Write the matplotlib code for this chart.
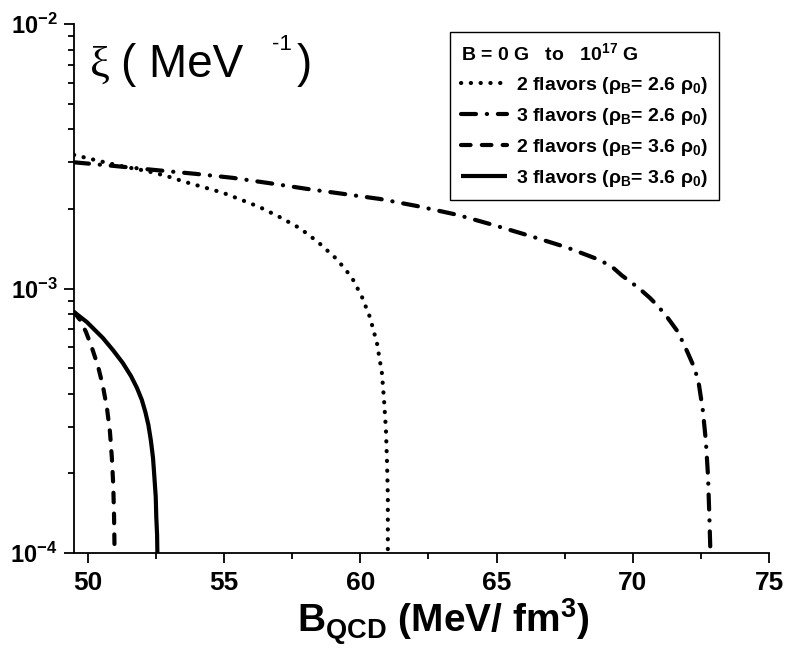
import math
import matplotlib
matplotlib.use('Agg')
import matplotlib.pyplot as plt
from matplotlib.ticker import MultipleLocator, LogLocator, NullFormatter, FuncFormatter, FixedLocator
from matplotlib.lines import Line2D

plt.rcParams['font.family'] = ['Liberation Sans', 'DejaVu Sans']
plt.rcParams['mathtext.fontset'] = 'custom'
plt.rcParams['mathtext.rm'] = 'Liberation Sans'
plt.rcParams['mathtext.bf'] = 'Liberation Sans:bold'
plt.rcParams['mathtext.it'] = 'Liberation Sans:italic'

# ---- data ----
x_2f_26 = [49.49, 50.44, 51.17, 52.17, 52.90, 53.56, 54.22, 54.96, 55.65, 56.31, 57.05,
           57.78, 58.44, 59.14, 59.69, 60.06, 60.35, 60.61, 60.79, 60.87, 60.94, 60.98, 61.01, 61.01]
y_2f_26 = [3.20e-3, 3.03e-3, 2.91e-3, 2.78e-3, 2.66e-3, 2.53e-3, 2.42e-3, 2.30e-3, 2.16e-3, 2.03e-3, 1.86e-3,
           1.69e-3, 1.50e-3, 1.29e-3, 1.10e-3, 9.29e-4, 7.80e-4, 6.22e-4, 4.80e-4, 3.79e-4, 2.92e-4, 2.19e-4, 1.63e-4, 1.0e-4]

x_3f_26 = [49.49, 51.06, 52.39, 54.00, 55.32, 56.68, 58.04, 59.36, 60.72, 62.08, 63.55, 64.87,
           66.23, 67.58, 68.80, 69.27, 69.60, 69.97, 70.30, 70.63, 70.92, 71.26, 71.66, 71.99, 72.28, 72.43,
           72.57, 72.68, 72.76, 72.81, 72.85]
y_3f_26 = [3.00e-3, 2.90e-3, 2.81e-3, 2.71e-3, 2.62e-3, 2.50e-3, 2.38e-3, 2.28e-3, 2.18e-3, 2.05e-3, 1.90e-3, 1.74e-3,
           1.58e-3, 1.43e-3, 1.28e-3, 1.20e-3, 1.12e-3, 1.05e-3, 9.87e-4, 9.21e-4, 8.59e-4, 7.80e-4, 6.85e-4, 5.80e-4, 4.96e-4, 4.32e-4,
           3.47e-4, 2.67e-4, 1.97e-4, 1.39e-4, 1.0e-4]

x_2f_36 = [49.49, 49.71, 49.93, 50.15, 50.37, 50.55, 50.70, 50.81, 50.88, 50.93, 50.96, 50.98]
y_2f_36 = [8.15e-4, 7.61e-4, 6.85e-4, 5.96e-4, 5.09e-4, 4.28e-4, 3.53e-4, 2.87e-4, 2.29e-4, 1.81e-4, 1.39e-4, 1.0e-4]

x_3f_36 = [49.49, 49.96, 50.55, 50.92, 51.28, 51.58, 51.80, 51.98, 52.11, 52.22, 52.31, 52.39,
           52.44, 52.49, 52.51, 52.54, 52.55]
y_3f_36 = [8.15e-4, 7.47e-4, 6.50e-4, 5.85e-4, 5.23e-4, 4.67e-4, 4.21e-4, 3.79e-4, 3.41e-4, 3.05e-4, 2.67e-4, 2.29e-4,
           1.94e-4, 1.63e-4, 1.37e-4, 1.17e-4, 1.0e-4]

labels = ['2 flavors (\u03c1$_\\mathbf{B}$= 2.6 \u03c1$_\\mathbf{0}$)',
          '3 flavors (\u03c1$_\\mathbf{B}$= 2.6 \u03c1$_\\mathbf{0}$)',
          '2 flavors (\u03c1$_\\mathbf{B}$= 3.6 \u03c1$_\\mathbf{0}$)',
          '3 flavors (\u03c1$_\\mathbf{B}$= 3.6 \u03c1$_\\mathbf{0}$)']
legend_title = 'B = 0 G   to   10$^{\\mathbf{17}}$ G'
x_ticks = [50, 55, 60, 65, 70, 75]
y_ticks = [1e-4, 1e-3, 1e-2]

W, H = 788, 658
fig = plt.figure(figsize=(W / 100, H / 100), dpi=100)
ax = fig.add_axes([74 / W, 1 - 553 / H, 695 / W, 529 / H])

styles = [
    dict(linestyle=(0, (0.05, 2.3)), dash_capstyle='round'),
    dict(linestyle=(0, (3.6, 2.6, 0.05, 2.6)), dash_capstyle='round'),
    dict(linestyle=(0, (2.3, 2.7)), dash_capstyle='round'),
    dict(linestyle='-', solid_capstyle='butt'),
]
series = [(x_2f_26, y_2f_26), (x_3f_26, y_3f_26), (x_2f_36, y_2f_36), (x_3f_36, y_3f_36)]
for (xs, ys), st, lab in zip(series, styles, labels):
    ax.plot(xs, ys, color='black', lw=3, label=lab, **st)

ax.set_yscale('log')
ax.set_xlim(49.49, 75)
ax.set_ylim(1e-4, 1e-2)

for s in ['top', 'right']:
    ax.spines[s].set_visible(False)
for s in ['left', 'bottom']:
    ax.spines[s].set_linewidth(1.3)

ax.xaxis.set_major_locator(FixedLocator(x_ticks))
ax.xaxis.set_minor_locator(MultipleLocator(2.5))
ax.yaxis.set_major_locator(FixedLocator(y_ticks))
ax.yaxis.set_minor_locator(LogLocator(base=10, subs=range(2, 10)))
ax.yaxis.set_minor_formatter(NullFormatter())


def yfmt(v, pos):
    e = int(round(math.log10(v)))
    return '$\\mathbf{10^{%d}}$' % e


ax.yaxis.set_major_formatter(FuncFormatter(yfmt))
ax.xaxis.set_major_formatter(FuncFormatter(lambda v, p: '%d' % v))

ax.tick_params(which='major', direction='out', length=7, width=1.3)
ax.tick_params(which='minor', direction='out', length=4, width=1.3)
ax.tick_params(axis='x', which='major', labelsize=19, pad=6)
ax.tick_params(axis='y', which='major', labelsize=17, pad=5)
for t in ax.get_xticklabels():
    t.set_fontweight('bold')

# x label
fig.text(443 / W, 1 - 633 / H, '$\\mathbf{B_{QCD}}$ (MeV/ fm$^{\\mathbf{3}}$)',
         ha='center', va='baseline', fontsize=28, fontweight='bold')

# y label placed inside the axes
fig.text(90 / W, 1 - 77 / H, '\u03be', fontsize=32, family=['Liberation Serif'], va='baseline')
fig.text(121 / W, 1 - 77 / H, '( MeV', fontsize=33, va='baseline')
fig.text(272 / W, 1 - 50 / H, '-1', fontsize=16, va='baseline')
fig.text(297 / W, 1 - 77 / H, ')', fontsize=33, va='baseline')

handles = [Line2D([], [], color='black', lw=3, **st) for st in styles]
leg = ax.legend(handles, labels, title=legend_title, loc='upper right',
                bbox_to_anchor=(719 / W, 1 - 32 / H), bbox_transform=fig.transFigure,
                borderaxespad=0,
                prop={'weight': 'bold', 'size': 14}, title_fontproperties={'weight': 'bold', 'size': 14},
                frameon=True, fancybox=False, edgecolor='black', framealpha=1,
                handlelength=2.35, handletextpad=0.5, labelspacing=0.52, borderpad=0.55,
                alignment='left')
leg.get_frame().set_linewidth(1.0)

fig.savefig('out.png', dpi=100)
